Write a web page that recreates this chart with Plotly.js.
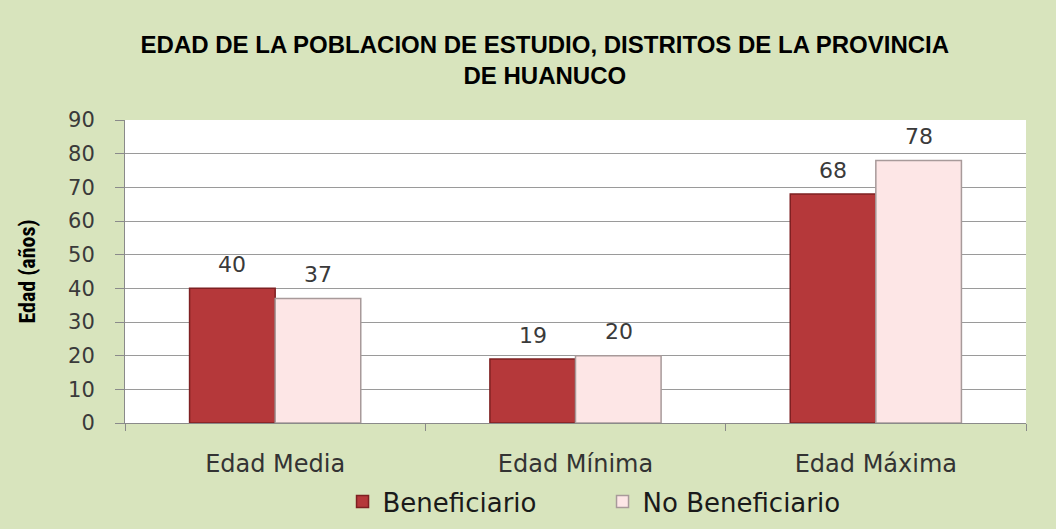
<!DOCTYPE html>
<html>
<head>
<meta charset="utf-8">
<script src="https://cdn.plot.ly/plotly-3.0.1.min.js"></script>
<style>html,body{margin:0;padding:0;background:#d8e4bd;}</style>
</head>
<body>
<div id="chart" style="width:1056px;height:529px;"></div>
<script>
const categories = ["Edad Media", "Edad Mínima", "Edad Máxima"];
const beneficiario = [40, 19, 68];
const noBeneficiario = [37, 20, 78];
const seriesNames = ["Beneficiario", "No Beneficiario"];

const wideFont = "DejaVu Sans, Open Sans, sans-serif";
const labelFont = {family: wideFont, size: 22, color: "#3a3a3a"};

const traces = [
  {
    type: "bar", name: seriesNames[0], x: categories, y: beneficiario,
    marker: {color: "#b5383a", line: {color: "#7e2022", width: 1.5}}
  },
  {
    type: "bar", name: seriesNames[1], x: categories, y: noBeneficiario,
    marker: {color: "#fde6e6", line: {color: "#a89a9a", width: 1.5}}
  }
];

// value labels placed above each bar, built from the data arrays
const groupOffset = 43;
const annotations = [];
[beneficiario, noBeneficiario].forEach((vals, s) => {
  vals.forEach((v, i) => {
    annotations.push({
      x: categories[i], y: v, xref: "x", yref: "y",
      text: String(v), showarrow: false,
      xshift: s === 0 ? -groupOffset : groupOffset,
      yshift: 24, yanchor: "middle", xanchor: "center",
      font: labelFont
    });
  });
});

const layout = {
  width: 1056, height: 529,
  paper_bgcolor: "#d8e4bd",
  plot_bgcolor: "#ffffff",
  margin: {l: 125, r: 30, t: 120, b: 106, autoexpand: false},
  title: {
    text: "EDAD DE LA POBLACION DE ESTUDIO, DISTRITOS DE LA PROVINCIA<br>DE HUANUCO",
    font: {family: "Liberation Sans, Arial, sans-serif", size: 24, color: "#000000", weight: "bold"},
    x: 0.466, xanchor: "center", xref: "paper", yref: "container", y: 0.9, yanchor: "top"
  },
  annotations: annotations,
  barmode: "group",
  bargap: 0.43,
  bargroupgap: 0,
  showlegend: true,
  legend: {
    orientation: "h", x: 0.53, xanchor: "center",
    yref: "container", y: 0.052, yanchor: "middle",
    entrywidth: 215, entrywidthmode: "pixels",
    font: {family: wideFont, size: 26, color: "#1a1a1a"},
    bgcolor: "rgba(0,0,0,0)"
  },
  xaxis: {
    type: "category",
    tickson: "boundaries",
    ticks: "outside", ticklen: 7, tickcolor: "#8a8a8a",
    showline: true, linecolor: "#8a8a8a", linewidth: 1,
    showgrid: false,
    ticklabelstandoff: 19,
    tickfont: {family: wideFont, size: 24, color: "#333333"},
    fixedrange: true
  },
  yaxis: {
    range: [0, 90], dtick: 10,
    ticks: "outside", ticklen: 9, tickcolor: "#8a8a8a",
    showline: true, linecolor: "#8a8a8a", linewidth: 1,
    showgrid: true, gridcolor: "#9a9a9a", gridwidth: 1,
    zeroline: false,
    ticklabelstandoff: 16,
    tickfont: {family: wideFont, size: 21, color: "#3a3a3a"},
    title: {
      text: "Edad (años)", standoff: 26,
      font: {family: "Liberation Sans Narrow, Roboto Condensed, Liberation Sans, sans-serif", size: 22, color: "#000000", weight: "bold"}
    },
    fixedrange: true
  }
};

Plotly.newPlot("chart", traces, layout, {displayModeBar: false, staticPlot: true});
</script>
</body>
</html>
